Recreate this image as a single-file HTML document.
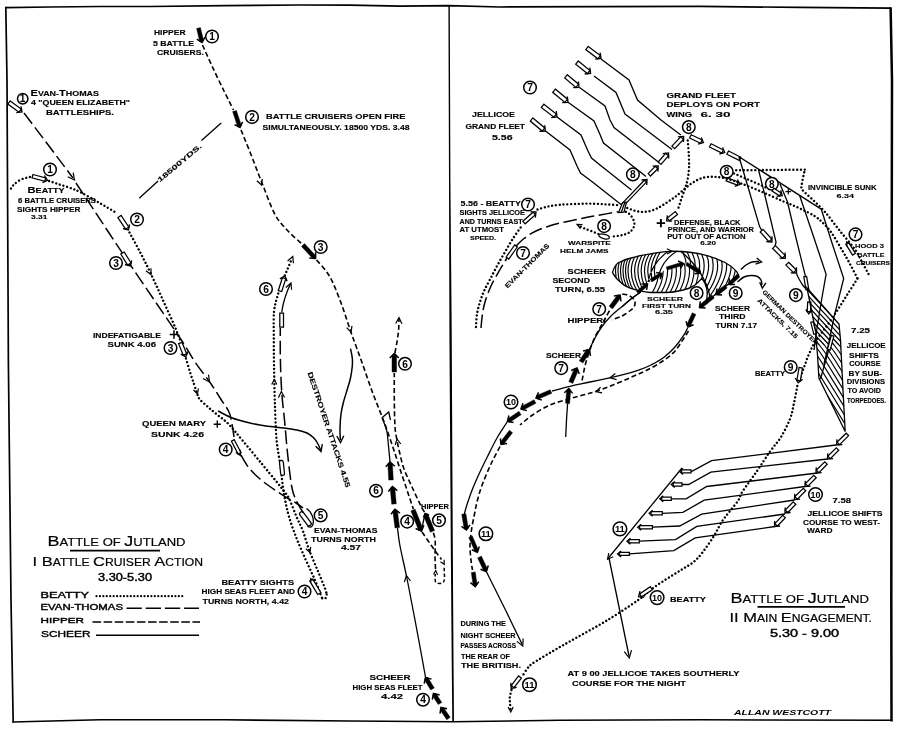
<!DOCTYPE html>
<html><head><meta charset="utf-8"><title>Battle of Jutland</title>
<style>
html,body{margin:0;padding:0;background:#fff;}
body{width:900px;height:730px;overflow:hidden;font-family:"Liberation Sans",sans-serif;}
svg{display:block;position:absolute;left:0;top:0;filter:grayscale(1);}
text{font-family:"Liberation Sans",sans-serif;fill:#000;}
.b{font-weight:bold;stroke:#000;stroke-width:0.12;}
.n{font-weight:normal;stroke:#000;stroke-width:0.18;}
.n2{font-weight:normal;stroke:#000;stroke-width:0.4;}
.i{font-weight:bold;font-style:italic;}
.cn{font-weight:bold;text-anchor:middle;}
.c{fill:#fff;stroke:#000;stroke-width:1.5;}
.s{fill:none;stroke:#000;stroke-width:1.3;}
.s2{fill:none;stroke:#000;stroke-width:1.5;}
.t{fill:none;stroke:#000;stroke-width:1.3;}
.hx{fill:none;stroke:#000;stroke-width:1.2;}
.el{fill:none;stroke:#000;stroke-width:1.15;}
.dt{fill:none;stroke:#000;stroke-width:2.4;stroke-linecap:round;stroke-dasharray:0.01 3.8;}
.ld{fill:none;stroke:#000;stroke-width:1.5;stroke-dasharray:13.5 4.5;}
.sd{fill:none;stroke:#000;stroke-width:1.6;stroke-dasharray:5 2.8;}
.sd2{fill:none;stroke:#000;stroke-width:1.5;stroke-dasharray:3.5 2.2;}
.hs{fill:#fff;stroke:#000;stroke-width:1.25;stroke-linejoin:miter;}
.hh{fill:none;stroke:#000;stroke-width:1.35;}
.bs{fill:#000;stroke:#000;stroke-width:0.4;}
.bh{fill:none;stroke:#000;stroke-width:1.5;}
.ah{fill:none;stroke:#000;stroke-width:1.2;}
.ah2{fill:none;stroke:#000;stroke-width:1.4;}
.fr{fill:none;stroke:#000;stroke-linejoin:miter;}
</style></head><body>
<svg width="900" height="730" viewBox="0 0 900 730">
<rect x="0" y="0" width="900" height="730" fill="#fff"/>
<path class="fr" stroke-width="1.7" d="M5.8 7.6 L50 7 L100 6.5 L150 6.5 L225 5.7 L300 5 L350 5.2 L400 6.2 L449 5.7 L500 7 L600 6.6 L700 6.4 L800 7.4 L890.6 8.2"/>
<path class="fr" stroke-width="1.7" d="M5.8 6.7 L7 80 L8.4 364 L11 600 L13.2 722.6"/>
<path class="fr" stroke-width="1.6" d="M12.3 722 L100 719.8 L225 719.8 L350 721 L453 721.8 L560 720.3 L700 719.8 L892.5 720.3"/>
<path class="fr" stroke-width="2.5" d="M890.6 7.3 L892 80 L891.5 364 L891.3 600 L891.5 721.5"/>
<path fill="#000" d="M448.4 5.5 L449 180 L449.4 330 L450.8 546 L451.7 660 L452.3 722 L454 722 L453.5 660 L452.8 546 L451.7 330 L450.4 180 L449.8 5.5 Z"/>
<path class="bs" d="M200.4 27.5 L203.6 40.6 L202 42.5 L199.7 41.5 L196.6 28.5 Z"/>
<path class="bh" d="M205 37.1 L202 42.5 L196.9 39.1"/>
<circle class="c" cx="212" cy="36.5" r="6.3"/>
<text class="cn" x="212" y="40.2" font-size="10.2">1</text>
<path class="sd" d="M202.5 45 C204.1 48.5 208.4 58.3 212 66 C215.6 73.7 220.4 83.7 224 91 C227.6 98.3 231.9 106.8 233.5 110"/>
<path class="bs" d="M236.4 110.4 L241.4 125.4 L240 127.5 L237.6 126.7 L232.6 111.6 Z"/>
<path class="bh" d="M242.6 121.9 L240 127.5 L234.6 124.6"/>
<circle class="c" cx="252" cy="117" r="6.3"/>
<text class="cn" x="252" y="120.7" font-size="10.2">2</text>
<path class="sd" d="M241 130 C242.5 133.7 246.5 143.2 250 152 C253.5 160.8 257.8 172.6 262 183 C266.2 193.4 270.7 206.5 275 214.5 C279.3 222.5 283.5 226.1 288 231 C292.5 235.9 299.7 241.8 302 244"/>
<path class="ah" d="M256.9 180.7 L261.5 185 L262.3 178.8"/>
<path class="bs" d="M304.5 243.6 L316 256 L315.5 258.5 L312.9 258.8 L301.5 246.4 Z"/>
<path class="bh" d="M315.6 252.3 L315.5 258.5 L309.3 258.1"/>
<circle class="c" cx="320.7" cy="247" r="6.3"/>
<text class="cn" x="320.7" y="250.7" font-size="10.2">3</text>
<path class="sd" d="M316.5 260 C318.1 261.8 323.2 267.2 326 271 C328.8 274.8 330.2 277 333 283 C335.8 289 339.7 299.2 342.5 307 C345.3 314.8 347.8 323 350 329.5 C352.2 336 353.9 340.2 356 346 C358.1 351.8 359.8 356.5 362.5 364 C365.2 371.5 368.8 382.2 372 391 C375.2 399.8 379.5 410 382 416.5 C384.5 423 385.1 424.6 387 430 C388.9 435.4 391.3 442.5 393.5 449 C395.7 455.5 397.8 462.2 400 469 C402.2 475.8 404.8 483.3 407 490 C409.2 496.7 412.2 505.8 413.3 509"/>
<path class="ah" d="M346.6 327.6 L351 332 L352 325.8"/>
<path class="bs" d="M415.1 509.1 L423 528.8 L421.4 531 L418.7 530.5 L410.9 510.9 Z"/>
<path class="bh" d="M423.9 525.2 L421.4 531 L415.6 528.5"/>
<path class="s" d="M421.4 531 L425 513.6"/>
<path class="bs" d="M430.4 532.3 L423.6 515.9 L425.2 513.6 L427.9 514.1 L434.6 530.5 Z"/>
<path class="bh" d="M423.6 517.5 L425.2 513.6 L429.1 515.2"/>
<circle class="c" cx="439" cy="520.3" r="6.3"/>
<text class="cn" x="439" y="524" font-size="10.2">5</text>
<path class="sd" d="M422 532 C423.5 534.2 428.5 541.4 431 545 C433.5 548.6 435.2 551.1 437 553.5 C438.8 555.9 440.8 558.5 441.5 559.5"/>
<path class="ah" d="M440.5 561.7 L444.2 564.3 L444.1 559.8"/>
<path class="sd2" d="M444.2 567.8 C444.2 569.8 444.7 577.5 444.3 580 C443.9 582.5 443.1 582.5 442 583 C440.9 583.5 439.1 583.5 438 583.3 C436.9 583 435.8 583 435.4 581.5 C434.9 580 435.3 575.2 435.3 574"/>
<path class="ah" d="M437.6 574.7 L435.7 570.6 L433.5 574.5"/>
<path class="sd" d="M435.5 569 C435.4 567 435.1 561.7 435 557 C434.9 552.3 435.5 545.2 435.2 541 C434.9 536.8 433.5 533.5 433.2 532"/>
<path class="sd" d="M424.5 512 C423.9 511 423.1 510.2 421 506 C418.9 501.8 414.8 493.2 412 487 C409.2 480.8 406.1 474.8 404 469 C401.9 463.2 400.7 457.1 399.5 452 C398.3 446.9 397.4 442.8 396.7 438.5 C395.9 434.2 395.4 432.9 395 426.5 C394.6 420.1 394.4 408.9 394.3 400 C394.2 391.1 394.3 377.5 394.3 373"/>
<path class="ah" d="M400.8 444 L397 439 L395.2 445"/>
<path class="bs" d="M392 372 L392 355 L394.3 353.5 L396.6 355 L396.6 372 Z"/>
<path class="bh" d="M389.8 358 L394.3 353.5 L398.8 358"/>
<circle class="c" cx="405" cy="363.8" r="6.3"/>
<text class="cn" x="405" y="367.5" font-size="10.2">6</text>
<path class="sd" d="M394.9 353 C395.3 350.8 396.7 343.8 397.3 340 C397.9 336.2 398.3 333.5 398.6 330 C398.9 326.5 398.9 320.8 399 319"/>
<path class="ah" d="M401.9 323.7 L399 317.5 L395.7 323.5"/>
<path class="hs" d="M10.2 100.9 L21.3 109.1 L19 112.2 L7.8 104.1 Z"/>
<path class="hh" d="M20.9 106.3 L22 112 L16.3 112.7"/>
<circle class="c" cx="22.7" cy="98.7" r="5.2"/>
<text class="cn" x="22.7" y="102.4" font-size="10.2">1</text>
<path class="ld" d="M24 113 L49 146 L73 178"/>
<path class="ah" d="M67.8 176.7 L74.5 180 L73.2 172.6"/>
<path class="ld" d="M76 183 C84.5 195.8 109.4 233.7 126.7 259.5 C144 285.3 168.6 320.9 180 338 C191.4 355.1 190.1 354.7 195 362 C199.9 369.3 205.2 375.5 209.7 382 C214.2 388.5 218.8 396 222 401 C225.2 406 227.3 408.2 229 412 C230.7 415.8 231.2 419.8 232 424 C232.8 428.2 233.7 434.8 234 437"/>
<path class="hs" d="M124.2 252 L131 263 L127.6 265.1 L120.8 254 Z"/>
<path class="hh" d="M131.7 260.4 L130.5 266 L124.9 264.5"/>
<circle class="c" cx="116" cy="263" r="6.3"/>
<text class="cn" x="116" y="266.7" font-size="10.2">3</text>
<path class="ah" d="M202.9 378.5 L209.5 382 L208.5 374.6"/>
<path class="hs" d="M234.2 439.7 L241.1 452.7 L238.3 454.3 L231.4 441.3 Z"/>
<path class="ah" d="M235.8 452.4 L240.5 455.5 L240.2 449.9"/>
<path class="ld" d="M241 455 C242.3 457.2 245.8 464 249 468 C252.2 472 256.2 475.7 260 479 C263.8 482.3 267.8 485.1 272 488 C276.2 490.9 281 494.2 285 496.7 C289 499.2 293 501.1 296 503 C299 504.9 301.8 507.2 303 508"/>
<circle class="c" cx="225.7" cy="449.5" r="6.3"/>
<text class="cn" x="225.7" y="453.2" font-size="10.2">4</text>
<rect class="hs" x="297.1" y="516.6" width="16.5" height="4.4" rx="2.2" transform="rotate(53.1 305.4 518.8)"/>
<path class="s" d="M306.5 508.5 C311.5 511.5 315 520 312.5 525.5 C311.5 527.5 309 527.5 307.5 526"/>
<circle class="c" cx="320.6" cy="515.4" r="6.3"/>
<text class="cn" x="320.6" y="519.1" font-size="10.2">5</text>
<path class="ld" d="M303.5 513 C302.4 511.2 298.9 506.2 297 502 C295.1 497.8 293.6 496 292 488 C290.4 480 288.9 465.3 287.6 454 C286.4 442.7 285.5 430.2 284.5 420 C283.5 409.8 282.5 403 281.8 393 C281.1 383 280.6 370.8 280.4 360 C280.1 349.2 280.3 333.3 280.3 328"/>
<path class="ah" d="M284.6 397.5 L281.3 391.5 L278.4 397.7"/>
<path class="hs" d="M279.8 327 L279.8 313 L283.5 313 L283.5 327 Z"/>
<path class="s" d="M281.7 312.5 C282 310.9 282.6 306.4 283.5 303 C284.4 299.6 285.8 295.2 287 292 C288.2 288.8 289.9 285.3 290.5 284"/>
<path class="ah" d="M291.6 289.8 L291 283 L285.8 287.5"/>
<path class="dt" d="M11 188.5 C11.5 187.8 12.5 185.9 14 184.5 C15.5 183.1 17.8 181.2 20 180 C22.2 178.8 25 178.2 27 177.6 C29 177 31.2 176.8 32 176.6"/>
<path class="hs" d="M33 174.5 L45.7 177.9 L44.8 181.3 L32 177.9 Z"/>
<path class="hh" d="M44.4 175.5 L47.5 180.2 L42.5 182.7"/>
<circle class="c" cx="50" cy="169.5" r="6.3"/>
<text class="cn" x="50" y="173.2" font-size="10.2">1</text>
<path class="dt" d="M49 181 C50.5 181.5 54.7 182.9 58 184 C61.3 185.1 65.3 186.2 69 187.5 C72.7 188.8 75.2 189.6 80 192 C84.8 194.4 91.8 198.4 98 202 C104.2 205.6 114.2 211.6 117.5 213.5"/>
<path class="hs" d="M121.1 215.4 L128.8 227 L125.6 229.2 L117.9 217.6 Z"/>
<path class="hh" d="M129.5 224.3 L128.5 230 L122.9 228.7"/>
<circle class="c" cx="137" cy="219.5" r="6.3"/>
<text class="cn" x="137" y="223.2" font-size="10.2">2</text>
<path class="dt" d="M129.5 232.5 C131.2 235.8 136.5 245.2 140 252 C143.5 258.8 146.8 265.3 150.5 273 C154.2 280.7 157.9 289 162 298 C166.1 307 171.9 319.8 175 327 C178.1 334.2 179.6 338.7 180.5 341"/>
<path class="ah" d="M145.9 270.8 L151 274.5 L151 268.2"/>
<path d="M169.7 334.5 H178.3 M174 330.2 V338.8" stroke="#000" stroke-width="1.5" fill="none"/>
<path class="hs" d="M182 342.3 L186.7 353.9 L183.2 355.2 L178.6 343.7 Z"/>
<path class="hh" d="M187.8 351.4 L185.8 356.7 L180.7 354.2"/>
<circle class="c" cx="170.5" cy="348" r="6.3"/>
<text class="cn" x="170.5" y="351.7" font-size="10.2">3</text>
<path class="dt" d="M186 358.5 C186.7 360.8 188.7 367.8 190 372 C191.3 376.2 192.8 380.5 194 384 C195.2 387.5 196.1 390.5 197 393 C197.9 395.5 197.7 396.7 199.5 399 C201.3 401.3 205.1 404.4 208 407 C210.9 409.6 213.5 411.6 217 414.5 C220.5 417.4 224.7 420.1 229 424.5 C233.3 428.9 237.5 434.4 243 441 C248.5 447.6 256.5 457.3 262 464 C267.5 470.7 272.4 476.6 276 481 C279.6 485.4 281.4 487.6 283.5 490.5 C285.6 493.4 286.8 493.9 288.9 498.2 C291 502.5 294 510.8 296.3 516.3 C298.6 521.8 300.7 525.3 302.9 531.1 C305.1 536.9 307 544.3 309.5 550.9 C312 557.5 315.1 564.3 317.7 570.6 C320.3 576.9 323.6 584.7 325.1 588.7 C326.6 592.7 326.4 593.5 326.7 594.4"/>
<path class="ah" d="M193.5 390 L197.5 394 L198.4 388.4"/>
<path d="M213.7 424.2 H220.9 M217.3 420.6 V427.8" stroke="#000" stroke-width="1.4" fill="none"/>
<path class="dt" d="M326.7 594.4 L325.5 598.6 L322 598.4"/>
<path class="dt" d="M322 597.7 C320.7 594.6 317.2 585.2 314.4 578.8 C311.6 572.4 308.4 566 305.4 559.1 C302.4 552.2 299.1 544.8 296.3 537.7 C293.6 530.6 290.8 522.9 288.9 516.3 C287 509.7 285.9 503.9 284.8 498.2 C283.7 492.5 283 487.4 282.3 482 C281.6 476.6 281.5 473.2 280.5 466 C279.5 458.8 277.4 450 276.5 439 C275.6 428 275.2 412.5 274.8 400 C274.4 387.5 274.2 374.8 274 364 C273.8 353.2 273.8 343.7 273.8 335 C273.8 326.3 273.4 318.5 274 312 C274.6 305.5 276 301.3 277.5 296 C279 290.7 281.2 284.7 283 280 C284.8 275.3 286.5 271.6 288 268 C289.5 264.4 291.3 260.1 292 258.5"/>
<path class="ah" d="M305.9 548.7 L310 552.5 L310.7 546.9"/>
<path class="ah" d="M276.8 384.6 L274.3 379.5 L271.7 384.5"/>
<path class="ah" d="M293.4 263.3 L292.8 256.5 L287.6 261"/>
<path class="hs" d="M278.3 290.5 L282.4 277.7 L285.8 278.7 L281.7 291.5 Z"/>
<path class="hh" d="M279.9 278.9 L284.8 276 L287.1 281.1"/>
<circle class="c" cx="266" cy="289" r="6.3"/>
<text class="cn" x="266" y="292.7" font-size="10.2">6</text>
<rect class="hs" x="274.5" y="466.1" width="15.1" height="3.8" rx="1.9" transform="rotate(-96.1 282 468)"/>
<path class="hs" d="M317.7 594.5 L309.7 580.9 L312.9 579.1 L320.9 592.7 Z"/>
<path class="ah" d="M314 580.8 L310.6 578.6 L310.8 582.6"/>
<circle class="c" cx="304.5" cy="591.5" r="6.3"/>
<text class="cn" x="304.5" y="595.2" font-size="10.2">4</text>
<path class="s" d="M139.2 198.2 L158.1 181"/>
<path class="s" d="M201.5 140.6 L221.2 123"/>
<path class="s2" d="M218 411 C220.3 412.1 226.6 415.8 231.6 417.7 C236.6 419.6 242.3 421.1 248 422.5 C253.7 423.9 260 425.1 266 426 C272 426.9 278.8 427.3 284 428 C289.2 428.7 293.2 429.2 297 430 C300.8 430.8 304.2 431.7 307 433 C309.8 434.3 311.8 436 313.6 437.8 C315.4 439.6 316.9 442 318 444 C319.1 446 320.1 449 320.5 450"/>
<path class="ah2" d="M315.6 446.3 L321 451.5 L322.3 444.1"/>
<path class="s2" d="M350.5 348.6 C350.8 350.2 352 355.1 352.3 358 C352.6 360.9 352.6 362.7 352.3 366 C352 369.3 351.3 374.2 350.5 378 C349.7 381.8 348.6 385 347.4 389 C346.2 393 344.6 397.8 343.5 402 C342.4 406.2 341.6 409.7 341 414 C340.4 418.3 340.1 423.7 340 428 C339.9 432.3 340.2 438 340.3 440"/>
<path class="ah2" d="M336.8 436 L340.5 442.5 L343.8 435.8"/>
<path class="bs" d="M446.8 719.7 L440.1 709.9 L441 707.5 L443.6 707.6 L450.2 717.3 Z"/>
<path class="bh" d="M440 713.6 L441 707.5 L447.1 708.8"/>
<path class="bs" d="M438.2 704.6 L432.6 695.9 L433.5 693.5 L436.1 693.6 L441.8 702.4 Z"/>
<path class="bh" d="M432.3 699.6 L433.5 693.5 L439.6 694.9"/>
<path class="bs" d="M430.7 690.1 L424.5 679.9 L425.5 677.5 L428.1 677.7 L434.3 687.9 Z"/>
<path class="bh" d="M424.2 683.6 L425.5 677.5 L431.5 679.1"/>
<circle class="c" cx="423" cy="699.7" r="6.3"/>
<text class="cn" x="423" y="703.4" font-size="10.2">4</text>
<path class="s" d="M425.5 677 C423.8 667.5 418.1 636.4 415 620 C411.9 603.6 409.5 590.8 407 578.5 C404.5 566.2 401.6 554.4 400 546 C398.4 537.6 397.9 531 397.5 528"/>
<path class="ah" d="M410.5 581 L406.4 575.5 L404.4 582.1"/>
<path class="bs" d="M395 528 L392.8 511 L394.9 509.2 L397.4 510.4 L399.6 527.4 Z"/>
<path class="bh" d="M391 514.2 L394.9 509.2 L399.9 513.1"/>
<circle class="c" cx="407.2" cy="521.6" r="6.3"/>
<text class="cn" x="407.2" y="525.3" font-size="10.2">4</text>
<path class="bs" d="M391.7 504.2 L390.2 488.3 L392.4 486.6 L394.8 487.9 L396.3 503.8 Z"/>
<path class="bh" d="M388.3 491.5 L392.4 486.6 L397.3 490.7"/>
<circle class="c" cx="376" cy="490.7" r="6.3"/>
<text class="cn" x="376" y="494.4" font-size="10.2">6</text>
<path class="bs" d="M388.7 480.1 L387.8 463.6 L390 462 L392.4 463.4 L393.3 479.9 Z"/>
<path class="bh" d="M385.8 466.7 L390 462 L394.7 466.2"/>
<path class="s" d="M390 462 C389.8 459.3 389 451 388.5 446 C388 441 387.7 435.7 387 432 C386.3 428.3 385.3 426.4 384.5 424 C383.7 421.6 382.4 418.8 382 417.7"/>
<path class="s" d="M382 417.7 L388.7 412 L390.5 420"/>
<text class="b" x="154" y="35.1" font-size="6.5" textLength="31.5" lengthAdjust="spacingAndGlyphs">HIPPER</text>
<text class="b" x="153" y="45.6" font-size="7.1" textLength="41" lengthAdjust="spacingAndGlyphs">5 BATTLE</text>
<text class="b" x="157" y="55.1" font-size="7.1" textLength="47" lengthAdjust="spacingAndGlyphs">CRUISERS.</text>
<text class="b" x="30.5" y="95.5" textLength="68.5" lengthAdjust="spacingAndGlyphs"><tspan font-size="8.6">E</tspan><tspan font-size="6.9">VAN-</tspan><tspan font-size="8.6">T</tspan><tspan font-size="6.9">HOMAS</tspan></text>
<text class="b" x="31" y="105.1" font-size="7.1" textLength="99" lengthAdjust="spacingAndGlyphs">4 &quot;QUEEN ELIZABETH&quot;</text>
<text class="b" x="46" y="114.6" font-size="7.1" textLength="68" lengthAdjust="spacingAndGlyphs">BATTLESHIPS.</text>
<text class="b" x="266" y="118.6" font-size="7.8" textLength="139.5" lengthAdjust="spacingAndGlyphs">BATTLE CRUISERS OPEN FIRE</text>
<text class="b" x="262.5" y="130.1" font-size="7.1" textLength="147" lengthAdjust="spacingAndGlyphs">SIMULTANEOUSLY. 18500 YDS. 3.48</text>
<text class="b" x="159.8" y="182.5" font-size="6.7" textLength="55.5" lengthAdjust="spacingAndGlyphs" transform="rotate(-39.9 159.8 182.5)">18500YDS.</text>
<text class="b" x="27.5" y="193" textLength="37" lengthAdjust="spacingAndGlyphs"><tspan font-size="8.6">B</tspan><tspan font-size="6.9">EATTY</tspan></text>
<text class="b" x="18" y="202.6" font-size="6.5" textLength="78" lengthAdjust="spacingAndGlyphs">6 BATTLE CRUISERS</text>
<text class="b" x="17" y="211.6" font-size="6.5" textLength="63.5" lengthAdjust="spacingAndGlyphs">SIGHTS HIPPER</text>
<text class="b" x="31" y="219.1" font-size="5.8" textLength="16.5" lengthAdjust="spacingAndGlyphs">3.31</text>
<text class="b" x="93" y="337.6" font-size="6.5" textLength="68" lengthAdjust="spacingAndGlyphs">INDEFATIGABLE</text>
<text class="b" x="107.5" y="347.1" font-size="7.1" textLength="48.5" lengthAdjust="spacingAndGlyphs">SUNK 4.06</text>
<text class="b" x="142" y="426.1" font-size="7.1" textLength="64" lengthAdjust="spacingAndGlyphs">QUEEN MARY</text>
<text class="b" x="151" y="436.6" font-size="7.1" textLength="53" lengthAdjust="spacingAndGlyphs">SUNK 4.26</text>
<text class="b" x="307.5" y="373" font-size="7.1" textLength="121" lengthAdjust="spacingAndGlyphs" transform="rotate(71.5 307.5 373)">DESTROYER ATTACKS 4.55</text>
<text class="b" x="314" y="533.1" font-size="7.1" textLength="63.5" lengthAdjust="spacingAndGlyphs">EVAN-THOMAS</text>
<text class="b" x="311" y="542.1" font-size="7.1" textLength="65" lengthAdjust="spacingAndGlyphs">TURNS NORTH</text>
<text class="b" x="341" y="550.1" font-size="6.5" textLength="20" lengthAdjust="spacingAndGlyphs">4.57</text>
<text class="b" x="421" y="508.6" font-size="7.1" textLength="28" lengthAdjust="spacingAndGlyphs">HIPPER</text>
<text class="b" x="221.5" y="584.6" font-size="6.5" textLength="72.5" lengthAdjust="spacingAndGlyphs">BEATTY SIGHTS</text>
<text class="b" x="201.5" y="593.6" font-size="6.5" textLength="93.5" lengthAdjust="spacingAndGlyphs">HIGH SEAS FLEET AND</text>
<text class="b" x="202.5" y="603.6" font-size="7.1" textLength="86.5" lengthAdjust="spacingAndGlyphs">TURNS NORTH, 4.42</text>
<text class="b" x="369.5" y="680.1" font-size="7.1" textLength="41" lengthAdjust="spacingAndGlyphs">SCHEER</text>
<text class="b" x="352.5" y="690.1" font-size="7.1" textLength="70" lengthAdjust="spacingAndGlyphs">HIGH SEAS FLEET</text>
<text class="b" x="381" y="698.6" font-size="6.5" textLength="22" lengthAdjust="spacingAndGlyphs">4.42</text>
<text class="n" x="47.5" y="546.4" textLength="138" lengthAdjust="spacingAndGlyphs"><tspan font-size="15.3">B</tspan><tspan font-size="11.1">ATTLE OF </tspan><tspan font-size="15.3">J</tspan><tspan font-size="11.1">UTLAND</tspan></text>
<path d="M70 550.6 H160" stroke="#000" stroke-width="1.8"/>
<text class="n" x="32.5" y="566" textLength="170.5" lengthAdjust="spacingAndGlyphs"><tspan font-size="13.6">I B</tspan><tspan font-size="10">ATTLE </tspan><tspan font-size="13.6">C</tspan><tspan font-size="10">RUISER </tspan><tspan font-size="13.6">A</tspan><tspan font-size="10">CTION</tspan></text>
<text class="n2" x="98" y="581.4" font-size="10.2" textLength="54" lengthAdjust="spacingAndGlyphs">3.30-5.30</text>
<text class="n2" x="40.5" y="598.4" font-size="9.4" textLength="48.5" lengthAdjust="spacingAndGlyphs">BEATTY</text>
<path d="M96.5 596.2 H185.5" fill="none" stroke="#000" stroke-width="2.2" stroke-linecap="round" stroke-dasharray="0.01 3.42"/>
<text class="n2" x="40.5" y="610.4" font-size="8.8" textLength="82.5" lengthAdjust="spacingAndGlyphs">EVAN-THOMAS</text>
<path d="M126.5 608.3 H199" stroke="#000" stroke-width="1.5" stroke-dasharray="15.3 3.9" fill="none"/>
<text class="n2" x="40.5" y="623.4" font-size="8.1" textLength="43.5" lengthAdjust="spacingAndGlyphs">HIPPER</text>
<path d="M92.5 622 H200" stroke="#000" stroke-width="1.5" stroke-dasharray="8.6 2.5" fill="none"/>
<text class="n2" x="41" y="636.9" font-size="9.4" textLength="49.5" lengthAdjust="spacingAndGlyphs">SCHEER</text>
<path d="M96 635.3 H199" stroke="#000" stroke-width="1.4" fill="none"/>
<path class="t" d="M601 59 L629 80 L637.5 100 L661 120 L680.8 135"/>
<path class="t" d="M594 76 L616 92.5 L625 114 L633 120 L672 149.5"/>
<path class="t" d="M579.5 87.5 L605 106 L610 120 L614 127.5 L659 162.5"/>
<path class="t" d="M568 102.3 L594 121 L600 134.4 L603.5 143 L646 176.5"/>
<path class="t" d="M557 117 L581 135 L588 151 L591.5 158 L600 165 L631.5 190"/>
<path class="t" d="M545.5 131 L570 150 L577 166 L580.5 173 L592.5 182 L621 204.5"/>
<path class="hs" d="M588.2 46.4 L600.4 55.5 L597.9 58.8 L585.8 49.6 Z"/>
<path class="hh" d="M600.1 52.7 L601 58.5 L595.2 59.2"/>
<path class="hs" d="M578.3 61 L590 70.5 L587.4 73.6 L575.7 64.2 Z"/>
<path class="hh" d="M589.8 67.7 L590.5 73.5 L584.7 74"/>
<path class="hs" d="M567.3 74.7 L578.6 84.2 L575.9 87.4 L564.7 77.9 Z"/>
<path class="hh" d="M578.4 81.5 L579 87.3 L573.2 87.7"/>
<path class="hs" d="M555.3 89.1 L567.5 99.2 L564.9 102.4 L552.7 92.3 Z"/>
<path class="hh" d="M567.3 96.5 L568 102.3 L562.2 102.7"/>
<path class="hs" d="M543.9 104.2 L556.4 114 L553.9 117.2 L541.3 107.4 Z"/>
<path class="hh" d="M556.2 111.2 L557 117 L551.2 117.6"/>
<path class="hs" d="M532.9 117.9 L544.8 127.9 L542.2 131.1 L530.3 121.1 Z"/>
<path class="hh" d="M544.7 125.2 L545.3 131 L539.5 131.4"/>
<circle class="c" cx="530" cy="87.5" r="6.3"/>
<text class="cn" x="530" y="91.2" font-size="10.2">7</text>
<path class="hs" d="M671.9 146.1 L680.7 136.8 L683.4 139.4 L674.7 148.7 Z"/>
<path class="hh" d="M677.9 136.8 L683.6 136.4 L683.5 142.1"/>
<path class="hs" d="M658.2 162 L665.6 153.4 L668.4 155.9 L661 164.4 Z"/>
<path class="hh" d="M662.8 153.6 L668.5 152.9 L668.7 158.6"/>
<path class="hs" d="M648.1 173.6 L655.3 166.3 L657.8 168.8 L650.5 176 Z"/>
<path class="hh" d="M652.6 166.2 L658.2 165.9 L657.9 171.5"/>
<path class="hs" d="M621.5 204.1 L644.4 180.2 L646.4 182.1 L623.5 205.9 Z"/>
<path class="hh" d="M641.5 180 L647 179.5 L646.7 185"/>
<circle class="c" cx="688.8" cy="127.1" r="6.3"/>
<text class="cn" x="688.8" y="130.8" font-size="10.2">8</text>
<circle class="c" cx="632.9" cy="174.4" r="6.3"/>
<text class="cn" x="632.9" y="178.1" font-size="10.2">8</text>
<path class="hs" d="M691.2 134.8 L702.1 140 L700.6 143.2 L689.6 138 Z"/>
<path class="hh" d="M701.2 137.4 L703.4 142.6 L698 144.2"/>
<path class="hs" d="M711.1 143.8 L723.4 150 L721.9 153.1 L709.5 147 Z"/>
<path class="hh" d="M722.6 147.4 L724.7 152.6 L719.3 154.1"/>
<path class="hs" d="M728.5 151 L740.8 157.2 L739.2 160.4 L726.9 154.2 Z"/>
<path class="s" d="M739 156.7 L821.2 209.1"/>
<path class="t" d="M739 156.7 L748 187 L759.6 226.6 L762 231"/>
<path class="t" d="M758.6 170 L766 200 L776 242 L775 247"/>
<path class="t" d="M780 184 L787.5 202 L796 238 L805.5 276.6"/>
<path class="t" d="M799.7 195.7 L812 232 L826.1 274.2 L821.2 302 L816.9 329 L814 350"/>
<path class="t" d="M821.2 209 L832 243 L843.7 278.5 L834.1 316.7 L827.5 349.5 L824 364"/>
<path class="hs" d="M763 229.4 L771.8 239 L768.9 241.6 L760.2 232 Z"/>
<path class="hh" d="M772 236.2 L771.9 242 L766.2 241.6"/>
<path class="hs" d="M775.4 245.6 L785.1 255.4 L782.3 258.1 L772.6 248.4 Z"/>
<path class="hh" d="M785.1 252.6 L785.3 258.4 L779.5 258.2"/>
<path class="hs" d="M788.7 262.3 L796.3 270 L793.5 272.7 L785.9 265.1 Z"/>
<path class="hh" d="M796.4 267.2 L796.5 273 L790.7 272.8"/>
<path class="t" d="M796.5 273.5 C796.9 274.4 797.9 277 799 279 C800.1 281 801.7 283.7 803 285.5 C804.3 287.3 806.3 289.2 807 290"/>
<path class="hs" d="M806.6 276.4 L808.8 289.4 L806 289.8 L803.8 276.8 Z"/>
<path class="hs" d="M810.9 302.1 L810.5 311.6 L807.2 311.4 L807.7 301.9 Z"/>
<path class="hh" d="M812.2 309.7 L808.8 313.8 L805.8 309.5"/>
<circle class="c" cx="795.9" cy="295.1" r="6.3"/>
<text class="cn" x="795.9" y="298.8" font-size="10.2">9</text>
<clipPath id="hp"><path d="M807 288 L839 324 L840.5 340 L843.3 396 L845.2 431.5 L818.9 378 L817.5 355 L815.4 330 Z"/></clipPath>
<path class="t" d="M807 288 L839 324 L840.5 340 L843.3 396 L845.2 431.5 L818.9 378 L817.5 355 L815.4 330 Z"/>
<path class="hx" clip-path="url(#hp)" d="M664.1 262 L741 345 Q746.6 352 751.6 360 L807.2 450 M669 262 L745.9 345 Q751.5 352 756.5 360 L812.1 450 M673.9 262 L750.8 345 Q756.4 352 761.4 360 L817 450 M678.8 262 L755.7 345 Q761.3 352 766.3 360 L821.9 450 M683.7 262 L760.6 345 Q766.2 352 771.2 360 L826.8 450 M688.6 262 L765.5 345 Q771.1 352 776.1 360 L831.7 450 M693.5 262 L770.4 345 Q776 352 781 360 L836.6 450 M698.4 262 L775.3 345 Q780.9 352 785.9 360 L841.5 450 M703.3 262 L780.2 345 Q785.8 352 790.8 360 L846.4 450 M708.2 262 L785.1 345 Q790.7 352 795.7 360 L851.3 450 M713.1 262 L790 345 Q795.6 352 800.6 360 L856.2 450 M718 262 L794.9 345 Q800.5 352 805.5 360 L861.1 450 M722.9 262 L799.8 345 Q805.4 352 810.4 360 L866 450 M727.8 262 L804.7 345 Q810.3 352 815.3 360 L870.9 450 M732.7 262 L809.6 345 Q815.2 352 820.2 360 L875.8 450 M737.6 262 L814.5 345 Q820.1 352 825.1 360 L880.7 450 M742.5 262 L819.4 345 Q825 352 830 360 L885.6 450 M747.4 262 L824.3 345 Q829.9 352 834.9 360 L890.5 450 M752.3 262 L829.2 345 Q834.8 352 839.8 360 L895.4 450 M757.2 262 L834.1 345 Q839.7 352 844.7 360 L900.3 450 M762.1 262 L839 345 Q844.6 352 849.6 360 L905.2 450 M767 262 L843.9 345 Q849.5 352 854.5 360 L910.1 450 M771.9 262 L848.8 345 Q854.4 352 859.4 360 L915 450 M776.8 262 L853.7 345 Q859.3 352 864.3 360 L919.9 450 M781.7 262 L858.6 345 Q864.2 352 869.2 360 L924.8 450 M786.6 262 L863.5 345 Q869.1 352 874.1 360 L929.7 450 M791.5 262 L868.4 345 Q874 352 879 360 L934.6 450 M796.4 262 L873.3 345 Q878.9 352 883.9 360 L939.5 450 M801.3 262 L878.2 345 Q883.8 352 888.8 360 L944.4 450 M806.2 262 L883.1 345 Q888.7 352 893.7 360 L949.3 450 M811.1 262 L888 345 Q893.6 352 898.6 360 L954.2 450 M816 262 L892.9 345 Q898.5 352 903.5 360 L959.1 450 M820.9 262 L897.8 345 Q903.4 352 908.4 360 L964 450 M825.8 262 L902.7 345 Q908.3 352 913.3 360 L968.9 450 M830.7 262 L907.6 345 Q913.2 352 918.2 360 L973.8 450 M835.6 262 L912.5 345 Q918.1 352 923.1 360 L978.7 450 M840.5 262 L917.4 345 Q923 352 928 360 L983.6 450 M845.4 262 L922.3 345 Q927.9 352 932.9 360 L988.5 450 M850.3 262 L927.2 345 Q932.8 352 937.8 360 L993.4 450 M855.2 262 L932.1 345 Q937.7 352 942.7 360 L998.3 450"/>
<path class="hs" d="M833.9 336.2 L830.1 350.1 L827.5 349.3 L831.3 335.4 Z"/>
<path class="t" d="M828.8 349.7 L820.5 379"/>
<path class="hs" d="M813.2 321.7 L816.2 333.7 L813.8 334.3 L810.8 322.3 Z"/>
<path class="dt" d="M868.5 274 C867.4 272 864.2 266.1 862 262 C859.8 257.9 858.7 254.7 855 249.5 C851.3 244.3 845 237.2 840 231 C835 224.8 829.7 217.3 825 212 C820.3 206.7 815.8 202.7 812 199 C808.2 195.3 804.2 192.3 802.5 190 C800.8 187.7 801.3 188.4 801.7 185 C802.1 181.6 804.3 172.2 804.8 169.6"/>
<path class="dt" d="M804.8 169.6 L770 170 L734 170.3"/>
<circle class="c" cx="726.7" cy="171.7" r="6.3"/>
<text class="cn" x="726.7" y="175.4" font-size="10.2">8</text>
<path class="hs" d="M727.3 177.8 L738.4 182 L737.3 185.1 L726.1 180.8 Z"/>
<path class="hh" d="M737.4 179.5 L740 184.4 L734.8 186.3"/>
<path class="dt" d="M734 173.5 C736.3 174.5 743.4 177.5 748 179.5 C752.6 181.5 757.6 183.7 761.6 185.5 C765.6 187.3 770.3 189.7 772 190.5"/>
<circle class="c" cx="771.9" cy="183.8" r="6.3"/>
<text class="cn" x="771.9" y="187.5" font-size="10.2">8</text>
<path class="hs" d="M773.9 188.2 L781.2 193 L779.4 195.8 L772.1 191 Z"/>
<path class="hh" d="M780.7 190.3 L782.2 195.7 L776.7 196.4"/>
<path d="M785.5 191.6 H791.1 M788.3 188.8 V194.4" stroke="#000" stroke-width="1.2" fill="none"/>
<circle class="c" cx="855.5" cy="234.4" r="6.3"/>
<text class="cn" x="855.5" y="238.1" font-size="10.2">7</text>
<path class="hs" d="M852.6 255.2 L845.8 244.1 L848.6 242.3 L855.4 253.4 Z"/>
<path class="ah" d="M850.4 244.3 L846.6 242 L847 246.4"/>
<path class="dt" d="M687.7 140.5 C687.9 142.9 688.6 150.4 688.8 155 C689 159.6 689.2 163.8 689 168 C688.8 172.2 688.2 176.6 687.5 180 C686.8 183.4 686.1 185.2 685 188.5 C683.9 191.8 682.2 196.4 681 200 C679.8 203.6 678.3 208.3 677.8 210"/>
<path class="hs" d="M677.5 214.4 L669.5 220.8 L667.3 218.1 L675.3 211.6 Z"/>
<path class="hh" d="M672.2 221.2 L666.6 220.9 L667.5 215.3"/>
<path d="M656.7 223.1 H665.1 M660.9 218.9 V227.3" stroke="#000" stroke-width="1.9" fill="none"/>
<path class="dt" d="M476 327 C476.2 324.8 476.3 318.2 477 314 C477.7 309.8 478.8 305.8 480 302 C481.2 298.2 482.3 294.8 484 291 C485.7 287.2 487.8 283.7 490 279.5 C492.2 275.3 494.5 270.6 497 266 C499.5 261.4 502.3 256.6 505 252 C507.7 247.4 510.2 242.9 513 238.5 C515.8 234.1 520.5 227.7 522 225.5"/>
<path class="hs" d="M522.8 221.2 L533.1 212.2 L535.4 214.8 L525.2 223.8 Z"/>
<path class="hh" d="M530.4 211.9 L536 212 L535.3 217.6"/>
<circle class="c" cx="528" cy="204.5" r="6.3"/>
<text class="cn" x="528" y="208.2" font-size="10.2">7</text>
<path class="dt" d="M537.5 209.5 C539.2 209 544.2 207.3 548 206.5 C551.8 205.7 555.5 205.2 560 204.8 C564.5 204.4 570 204.2 575 204 C580 203.8 585 203.5 590 203.6 C595 203.7 600.2 204 605 204.3 C609.8 204.6 616.2 205 618.5 205.2"/>
<path class="hs" d="M618.6 212.6 L622.6 202.6 L626.4 202.2 L624 212.2 Z"/>
<path class="t" d="M621.3 212.2 L624.8 202.6"/>
<path class="dt" d="M627.3 208 C628.4 208.4 631.6 209.8 634 210.5 C636.4 211.2 639.2 211.8 641.7 211.9 C644.2 212 646.6 211.8 649 211.3 C651.4 210.8 653.9 209.9 656.2 208.8 C658.5 207.8 660.6 206.5 663 205 C665.4 203.5 668.3 201.6 670.6 200 C672.9 198.4 674.6 197.4 677 195.5 C679.4 193.6 682.3 190.7 685 188.5 C687.7 186.3 690 184.3 693 182.5 C696 180.7 699.1 178.8 702.7 177.8 C706.3 176.9 710.4 176.6 714.4 176.8 C718.4 177 722.6 177.7 727 178.8 C731.4 179.9 735.3 181.3 741 183.4 C746.7 185.5 754.1 188.6 761 191.5 C767.9 194.4 775.9 198.2 782.2 200.9 C788.5 203.7 793.5 205.4 799 208 C804.5 210.6 810.8 213.6 815 216.3 C819.2 219 821.2 221.3 824 224 C826.8 226.7 828.5 228.4 831.5 232.7 C834.5 237 838.9 244.8 842 250 C845.1 255.2 847.4 259.2 850 264 C852.6 268.8 856.2 276.1 857.5 278.5"/>
<path class="dt" d="M857.5 278.5 C855.8 281.2 850.4 289.7 847 295 C843.6 300.3 840.7 305.2 837.2 310.5 C833.7 315.8 829.7 321.8 826 327 C822.3 332.2 817.8 337.5 815 342 C812.2 346.5 810.8 350 809 354 C807.2 358 805.9 362.2 804.5 366 C803.1 369.8 801.2 375.2 800.5 377"/>
<path class="hs" d="M802.5 368.1 L800.3 380.8 L796.9 380.2 L799.1 367.5 Z"/>
<path class="hh" d="M802.6 379.3 L798.2 382.8 L795.2 378"/>
<circle class="c" cx="790.7" cy="367" r="6.3"/>
<text class="cn" x="790.7" y="370.7" font-size="10.2">9</text>
<path class="dt" d="M797.3 386 C796.8 388.8 795.2 397.5 794 403 C792.8 408.5 792.2 413.3 790 419 C787.8 424.7 784.3 431.6 781 437 C777.7 442.4 774 445.8 770 451.5 C766 457.2 761.6 464.3 757 471 C752.4 477.7 745.6 486.7 742.5 491.5 C739.4 496.3 740.6 496.8 738.5 500 C736.4 503.2 732.8 507.4 730 511 C727.2 514.6 724.7 517.2 722 521.4 C719.3 525.6 717.1 531 713.8 536.2 C710.5 541.4 705.6 548.4 702.3 552.6 C699 556.8 697 559.1 694.1 561.6 C691.2 564.1 688 565.7 685 567.6 C682 569.5 681 569.9 676 573.1 C671 576.3 661.1 582.2 654.7 586.8 C648.3 591.4 645.6 594.8 637.5 600.5 C629.4 606.2 616.4 614.7 606 621 C595.6 627.3 583.8 633.5 575 638.5 C566.2 643.5 560.1 646.8 553 651 C545.9 655.2 536.8 660.5 532.5 663.5 C528.2 666.5 528.7 666.9 527 669 C525.3 671.1 523.2 674.8 522.5 676"/>
<path class="hs" d="M652.3 589.7 L641.5 596.8 L639.6 593.9 L650.3 586.7 Z"/>
<path class="hh" d="M644.2 597.4 L638.6 596.6 L640 591.2"/>
<circle class="c" cx="657.1" cy="597.6" r="6.8"/>
<text class="cn" x="657.1" y="601" font-size="9.4" textLength="10" lengthAdjust="spacingAndGlyphs">10</text>
<path class="hs" d="M521.4 678.1 L514 687.7 L511.2 685.6 L518.6 675.9 Z"/>
<path class="hh" d="M516.7 687.4 L511.2 688.5 L510.8 682.9"/>
<circle class="c" cx="529.5" cy="684.7" r="6.8"/>
<text class="cn" x="529.5" y="688.1" font-size="9.4" textLength="10" lengthAdjust="spacingAndGlyphs">11</text>
<path class="dt" d="M511.5 690 C511.2 691.2 510.1 694.8 509.8 697 C509.6 699.2 509.9 701 510 703 C510.1 705 510.4 708 510.5 709"/>
<path class="ah" d="M508.1 707.1 L510.8 712 L513.2 706.9"/>
<path class="dt" d="M625.8 211.7 C626.5 212.2 628.8 213.3 630 214.5 C631.2 215.7 632.3 217.6 633 219 C633.7 220.4 634.2 221.7 634.3 223 C634.4 224.3 634.5 225.5 633.8 227 C633.1 228.5 631.5 230.8 630 232 C628.5 233.2 626.4 233.9 624.5 234.5 C622.6 235.1 620.9 235.3 618.6 235.7 C616.4 236.1 612.3 236.6 611 236.8"/>
<ellipse class="hs" cx="604.1" cy="236.5" rx="5.4" ry="2.1" transform="rotate(14 604.1 236.5)"/>
<path class="dt" d="M598.4 234 C597.2 233.5 593.4 231.9 591 231 C588.6 230.1 585.9 229.1 584 228.3 C582.1 227.5 580.2 226.4 579.5 226"/>
<path class="hh" d="M582.5 224.6 L577.2 224.4 L580.5 228.6"/>
<circle class="c" cx="604.1" cy="226.1" r="6.3"/>
<text class="cn" x="604.1" y="229.8" font-size="10.2">8</text>
<path class="ld" d="M481 328 C481.2 325.7 481.8 318.3 482.5 314 C483.2 309.7 483.6 306.7 485 302 C486.4 297.3 488.5 291.4 491 286 C493.5 280.6 497.3 274.2 500 269.5 C502.7 264.8 505.8 259.9 507 258"/>
<path class="hs" d="M506.2 257 L514.7 245 L517.3 247 L508.8 259 Z"/>
<circle class="c" cx="523" cy="253" r="6.3"/>
<text class="cn" x="523" y="256.7" font-size="10.2">7</text>
<path class="ld" d="M516 246 C517.3 244.8 520.8 240.9 524 238.5 C527.2 236.1 530.7 233.6 535 231.5 C539.3 229.4 545 227.3 550 225.7 C555 224.1 559.3 223.3 565 222 C570.7 220.7 578.2 219.2 584 218 C589.8 216.8 594.2 216.1 600 215 C605.8 213.9 615.5 212.2 618.6 211.7"/>
<path class="s" d="M565.7 437 L566.5 420 L567.6 403.5"/>
<path class="bs" d="M565.6 403.3 L566.7 389.9 L568.8 388.6 L570.7 390.3 L569.6 403.7 Z"/>
<path class="bh" d="M564.3 392.7 L568.8 388.6 L572.6 393.4"/>
<path class="bs" d="M568.8 381.6 L574.4 368.6 L577 368.1 L578.4 370.3 L572.8 383.4 Z"/>
<path class="bh" d="M571.2 370.5 L577 368.1 L579.3 374"/>
<circle class="c" cx="561.2" cy="368.1" r="6.3"/>
<text class="cn" x="561.2" y="371.8" font-size="10.2">7</text>
<path class="bs" d="M579.3 360.7 L586.6 349.6 L589.3 349.6 L590.3 352.1 L582.9 363.1 Z"/>
<path class="bh" d="M583.1 350.9 L589.3 349.6 L590.5 355.8"/>
<path class="s" d="M589.3 349.6 C590.2 347.7 593 341.8 595 338 C597 334.2 598.9 330.7 601.6 327 C604.3 323.3 607.6 319.4 611 316 C614.4 312.6 618.9 309.2 622.2 306.4 C625.5 303.6 627.9 301.4 631 299 C634.1 296.6 639.1 293.2 640.7 292"/>
<path class="sd" d="M582.1 380.4 C582.6 378 583.8 370.8 585 366 C586.2 361.2 587.6 356.4 589.3 351.6 C591 346.8 593 341.4 595 337 C597 332.6 599.7 328.5 601.6 325 C603.5 321.5 604.9 318.8 606.5 316 C608.1 313.2 610.2 309.3 611 308"/>
<path class="bs" d="M609.1 306.2 L617.4 295 L620.1 295.1 L621 297.6 L612.7 308.8 Z"/>
<path class="bh" d="M613.9 296.1 L620.1 295.1 L621 301.3"/>
<circle class="c" cx="599.2" cy="309.1" r="6.3"/>
<text class="cn" x="599.2" y="312.8" font-size="10.2">7</text>
<path class="sd" d="M622.2 294.1 C623.3 294.3 627 294.5 629 295.5 C631 296.5 633.6 298.6 634.5 300.3 C635.4 302.1 635.2 304.3 634.5 306 C633.8 307.7 632.5 308.8 630.4 310.5 C628.3 312.2 625.1 314.4 622 316 C618.9 317.6 613.6 319.2 611.9 319.8"/>
<clipPath id="el"><path d="M612.5 272.5 C614 267 616 264.5 618 263 C623 260 628 258.5 633 257.5 C640 255.5 645 254.8 650 254 C658 252.5 664 251.5 670 251.3 C678 251 686 251.8 691.7 252.5 C698 253.3 703 254.5 708 255.8 C714 257.5 720 260 725 262.5 C730 265 734 268.5 736.7 271.7 L738.8 275.8 L706 302 C709 292 706 283 701.7 278.3 C699 281.5 697 283.5 695 285 C691 288 687 289.2 683.3 290 C677 291.5 672 292.5 666.7 292.5 L650 292.5 C643 291.8 638 290.8 633.3 289.2 C628 287.5 624 285.5 621.7 283.3 C617.5 280 614.5 276.5 612.5 272.5 Z"/></clipPath>
<clipPath id="ln"><path d="M637 292 L655 277.5 L666.7 268.3 L683.3 263.3 L693.3 265 L701.7 278.3 C699 281.5 697 283.5 695 285 C691 288 687 289.2 683.3 290 C677 291.5 672 292.5 666.7 292.5 L650 292.5 C645 292.3 641 292.2 637 292 Z"/></clipPath>
<clipPath id="nl"><path clip-rule="evenodd" d="M600 240 H750 V310 H600 Z M637 292 L655 277.5 L666.7 268.3 L683.3 263.3 L693.3 265 L701.7 278.3 C699 281.5 697 283.5 695 285 C691 288 687 289.2 683.3 290 C677 291.5 672 292.5 666.7 292.5 L650 292.5 C645 292.3 641 292.2 637 292 Z"/></clipPath>
<g clip-path="url(#nl)"><path class="el" clip-path="url(#el)" d="M625 247 Q605 272 627 299 M627.5 247 Q607.5 272 629.5 299 M630 247 Q610 272 632 299 M632.5 247 Q612.5 272 634.5 299 M635 247 Q615 272 637 299 M637.5 247 Q617.5 272 639.5 299 M640.8 247 Q620.8 272 642.8 299 M644.1 247 Q624.1 272 646.1 299 M647.4 247 Q627.4 272 649.4 299 M650.7 247 Q630.7 272 652.7 299 M654 247 Q634 272 656 299 M657.3 247 Q637.3 272 659.3 299 M660.6 247 Q640.6 272 662.6 299 M663.9 247 Q643.9 272 665.9 299 M670 250 Q652 262 648 282 M679 250 Q664 258 659 274 M678 246 Q699 268 666 306 M682.5 246 Q703.5 268 670.5 306 M687 246 Q708 268 675 306 M691.5 246 Q712.5 268 679.5 306 M696 246 Q717 268 684 306 M700.5 246 Q721.5 268 688.5 306 M705 246 Q726 268 693 306 M709.5 246 Q730.5 268 697.5 306 M714 246 Q735 268 702 306 M718.5 246 Q739.5 268 706.5 306 M723 246 Q744 268 711 306 M727.5 246 Q748.5 268 715.5 306 M732 246 Q753 268 720 306"/></g>
<path class="el" clip-path="url(#ln)" d="M656 258 Q664 276 649 298 M660.4 258 Q668.4 276 653.4 298 M664.8 258 Q672.8 276 657.8 298 M669.2 258 Q677.2 276 662.2 298 M673.6 258 Q681.6 276 666.6 298 M678 258 Q686 276 671 298 M682.4 258 Q690.4 276 675.4 298 M686.8 258 Q694.8 276 679.8 298 M691.2 258 Q699.2 276 684.2 298 M695.6 258 Q703.6 276 688.6 298 M700 258 Q708 276 693 298 M704.4 258 Q712.4 276 697.4 298"/>
<path class="s" d="M612.5 272.5 C614 267 616 264.5 618 263 C623 260 628 258.5 633 257.5 C640 255.5 645 254.8 650 254 C658 252.5 664 251.5 670 251.3 C678 251 686 251.8 691.7 252.5 C698 253.3 703 254.5 708 255.8 C714 257.5 720 260 725 262.5 C730 265 734 268.5 736.7 271.7 L738.8 275.8 L706 302 C709 292 706 283 701.7 278.3 C699 281.5 697 283.5 695 285 C691 288 687 289.2 683.3 290 C677 291.5 672 292.5 666.7 292.5 L650 292.5 C643 291.8 638 290.8 633.3 289.2 C628 287.5 624 285.5 621.7 283.3 C617.5 280 614.5 276.5 612.5 272.5 Z"/>
<path class="s" d="M681 251.5 C694 262 707 279 710 297"/>
<path class="s" d="M640.7 292 C633 297 627 302 622.2 306.4"/>
<path class="ah" d="M667.1 253.9 L672 251.2 L666.9 248.8"/>
<path class="bs" d="M636.4 291.2 L645.3 283.7 L647.5 284 L647.5 286.3 L638.6 293.8 Z"/>
<path class="bh" d="M641.5 283.9 L647.5 284 L646.6 289.9"/>
<path class="bs" d="M650.1 279.1 L659.8 272.9 L662 273.5 L661.6 275.7 L651.9 281.9 Z"/>
<path class="bh" d="M656.1 272.6 L662 273.5 L660.3 279.2"/>
<path class="bs" d="M666.2 266.9 L681.6 262.3 L683.5 263.5 L682.5 265.6 L667.2 270.1 Z"/>
<path class="bh" d="M678.1 261 L683.5 263.5 L680.3 268.5"/>
<path class="bs" d="M687.4 262.4 L700.2 270.8 L700.5 273 L698.3 273.6 L685.6 265.2 Z"/>
<path class="bh" d="M698.9 267.3 L700.5 273 L694.6 273.8"/>
<path class="bs" d="M739.8 276.9 L731.4 284.8 L729 284.5 L728.8 282.1 L737.2 274.1 Z"/>
<path class="bh" d="M735.1 284.4 L729 284.5 L729.4 278.4"/>
<path class="bs" d="M727.2 288 L718.4 295 L716 294.5 L716 292.1 L724.8 285 Z"/>
<path class="bh" d="M722.1 294.9 L716 294.5 L717 288.5"/>
<path class="bs" d="M714.3 298.1 L701.9 308.1 L699.5 307.5 L699.4 305 L711.7 294.9 Z"/>
<path class="bh" d="M705.6 307.9 L699.5 307.5 L700.3 301.4"/>
<circle class="c" cx="696.6" cy="293.1" r="6.3"/>
<text class="cn" x="696.6" y="296.8" font-size="10.2">8</text>
<circle class="c" cx="735.7" cy="293" r="6.3"/>
<text class="cn" x="735.7" y="296.7" font-size="10.2">9</text>
<path class="bs" d="M695.9 314.4 L690.3 326.5 L687.9 327 L686.7 324.8 L692.3 312.8 Z"/>
<path class="bh" d="M693.6 324.7 L687.9 327 L686 321.2"/>
<path class="s" d="M687.5 328 C686.9 329.2 685.9 332 683.8 335.2 C681.7 338.4 678.4 343.2 675 347 C671.6 350.8 667.3 354.8 663.3 357.8 C659.3 360.8 655.1 362.9 651 365 C646.9 367.1 642.9 368.6 638.6 370.1 C634.3 371.6 629.5 373 625 374.2 C620.5 375.4 617.7 376 611.9 377.3 C606.1 378.6 597.2 380.4 590 382 C582.8 383.6 575.1 385.1 568.8 386.6 C562.5 388.1 554.8 390.3 552 391"/>
<path class="ah" d="M615.3 373.5 L610 377.8 L616.6 379.6"/>
<path class="bs" d="M551.8 393.3 L538.2 399.2 L536 398 L536.6 395.6 L550.2 389.7 Z"/>
<path class="bh" d="M541.8 400.1 L536 398 L538.5 392.4"/>
<path class="bs" d="M535.9 403.3 L523.3 410.1 L521 409 L521.4 406.5 L534.1 399.7 Z"/>
<path class="bh" d="M526.9 410.6 L521 409 L523 403.2"/>
<path class="bs" d="M521.1 414.7 L509.9 422.3 L507.5 421.5 L507.6 419 L518.9 411.3 Z"/>
<path class="bh" d="M513.6 422.4 L507.5 421.5 L508.9 415.5"/>
<circle class="c" cx="511" cy="402" r="6.8"/>
<text class="cn" x="511" y="405.4" font-size="9.4" textLength="10" lengthAdjust="spacingAndGlyphs">10</text>
<path class="s" d="M507.5 421.5 C505.8 424.2 500.3 432.2 497 438 C493.7 443.8 490.5 450.5 487.5 456.5 C484.5 462.5 481.5 468.6 479 474 C476.5 479.4 474.4 484.2 472.5 489 C470.6 493.8 468.9 498.8 467.5 503 C466.1 507.2 464.8 512.2 464.3 514"/>
<path class="bs" d="M465.9 513.7 L468.3 528.2 L466.5 530 L464.2 528.9 L461.7 514.3 Z"/>
<path class="bh" d="M470 524.8 L466.5 530 L461.5 526.3"/>
<path class="sd" d="M688.5 331 C687.5 332.5 685.2 336.4 682.7 340 C680.2 343.6 677.6 348.5 673.8 352.4 C669.9 356.2 664.4 360 659.6 363.1 C654.8 366.2 649.8 368.6 645 371 C640.2 373.4 636.4 375 631.1 377.3 C625.8 379.6 618.9 382.6 613 385 C607.1 387.4 600.6 389.9 595.6 391.6 C590.6 393.3 587.5 393.8 583 395 C578.5 396.2 574.3 397.2 568.8 398.9 C563.3 400.6 556 402.3 550 405 C544 407.7 537.5 411.7 532.5 415 C527.5 418.3 522.1 423.3 520 425"/>
<path class="ah" d="M600.6 387.3 L596 391.6 L602.1 392.8"/>
<path class="bs" d="M512.6 432.7 L503.5 444.5 L501 444.5 L500.3 442.1 L509.4 430.3 Z"/>
<path class="bh" d="M507.1 443.5 L501 444.5 L500.4 438.4"/>
<path class="sd" d="M500 446.5 C498.5 449.4 493.9 457.8 491 464 C488.1 470.2 484.8 478 482.5 484 C480.2 490 478.8 495 477.5 500 C476.2 505 475.5 509 474.5 514 C473.5 519 472.2 524.7 471.5 530 C470.8 535.3 470.1 541 470 546 C469.9 551 470.6 556 471 560 C471.4 564 472.2 568.3 472.5 570"/>
<circle class="c" cx="485.9" cy="533.8" r="6.8"/>
<text class="cn" x="485.9" y="537.2" font-size="9.4" textLength="10" lengthAdjust="spacingAndGlyphs">11</text>
<path class="bs" d="M472.2 535.8 L478.5 550.2 L477.4 552.3 L475.1 551.7 L468.8 537.4 Z"/>
<path class="bh" d="M479.3 546.5 L477.4 552.3 L471.8 549.8"/>
<path class="bs" d="M481.4 556.1 L487.6 569.3 L486.3 571.5 L483.8 571 L477.6 557.9 Z"/>
<path class="bh" d="M488.3 565.6 L486.3 571.5 L480.5 569.3"/>
<path class="bs" d="M475.3 571.9 L477.1 584.8 L475.3 586.6 L473.1 585.4 L471.3 572.5 Z"/>
<path class="bh" d="M478.8 581.6 L475.3 586.6 L470.5 582.7"/>
<path class="s" d="M486.3 571.5 L505 609 L522 644"/>
<path class="ah" d="M516.9 641.4 L522.8 646 L523.1 638.5"/>
<path class="s2" d="M741 269.5 C741.8 268.8 744.2 266.2 746 265 C747.8 263.8 749.8 262.6 752 262 C754.2 261.4 757.8 261.6 759 261.5"/>
<path class="ah2" d="M755.6 264.1 L761.5 262 L756.7 258"/>
<path class="s2" d="M737.5 282 C738.6 281.2 741.8 278.1 744 277 C746.2 275.9 748.8 275.6 751 275.5 C753.2 275.4 755.8 275.8 757.5 276.5 C759.2 277.2 760.2 278.6 761 280 C761.8 281.4 761.8 284.2 762 285"/>
<path class="ah2" d="M759.7 282.3 L762.3 288 L765.9 282.9"/>
<path class="hs" d="M848.6 435.6 L839.6 444.6 L837.1 442.1 L846.2 433.2 Z"/>
<path class="hh" d="M842.3 444.7 L836.7 445 L837 439.4"/>
<path class="hs" d="M838.7 450.2 L830.4 458.6 L827.9 456.1 L836.3 447.8 Z"/>
<path class="hh" d="M833.1 458.7 L827.5 459 L827.8 453.4"/>
<path class="hs" d="M827.2 464.2 L818.9 472.6 L816.4 470.1 L824.8 461.8 Z"/>
<path class="hh" d="M821.6 472.7 L816 473 L816.3 467.4"/>
<path class="hs" d="M816.2 477.7 L807.9 486.1 L805.4 483.6 L813.8 475.3 Z"/>
<path class="hh" d="M810.6 486.2 L805 486.5 L805.3 480.9"/>
<path class="hs" d="M805.7 490.7 L797.4 499.1 L794.9 496.6 L803.3 488.3 Z"/>
<path class="hh" d="M800.1 499.2 L794.5 499.5 L794.8 493.9"/>
<path class="hs" d="M795.8 504.2 L787.9 512.5 L785.3 510.1 L793.2 501.8 Z"/>
<path class="hh" d="M790.6 512.5 L785 513 L785.2 507.4"/>
<path class="hs" d="M785.3 517.7 L777.4 526 L774.8 523.6 L782.7 515.3 Z"/>
<path class="hh" d="M780.1 526 L774.5 526.5 L774.7 520.9"/>
<path class="t" d="M836 445 L711.6 460.7 L691.9 471.4 L691 471.4"/>
<path class="t" d="M827.5 459 L710.8 472.2 L688.6 484.5 L682 484.5"/>
<path class="t" d="M817.5 473 L706.7 486.5 L686.1 498.8 L671.3 498.8"/>
<path class="t" d="M805 486.5 L704.2 500.1 L682.9 512.4 L662.3 513.3"/>
<path class="t" d="M794.5 500 L701.7 514.1 L679.6 526 L652.4 527.2"/>
<path class="t" d="M785 514 L696.8 526.4 L675.5 539.6 L639.3 541.2"/>
<path class="t" d="M775 526.5 L695.2 537.9 L673.8 550.6 L629.4 553.9"/>
<path class="hs" d="M691 472.9 L681.5 472.9 L681.5 469.8 L691 469.8 Z"/>
<path class="hh" d="M683.1 474.4 L679.6 471.4 L683.1 468.4"/>
<path class="hs" d="M682 486.1 L673.2 486.1 L673.2 482.9 L682 482.9 Z"/>
<path class="hh" d="M674.8 487.5 L671.3 484.5 L674.8 481.5"/>
<path class="hs" d="M671.3 500.4 L661.7 500.4 L661.7 497.2 L671.3 497.2 Z"/>
<path class="hh" d="M663.3 501.8 L659.8 498.8 L663.3 495.8"/>
<path class="hs" d="M662.3 514.8 L651.1 514.8 L651.1 511.7 L662.3 511.7 Z"/>
<path class="hh" d="M652.7 516.3 L649.2 513.3 L652.7 510.3"/>
<path class="hs" d="M652.4 528.8 L639.6 528.8 L639.6 525.7 L652.4 525.7 Z"/>
<path class="hh" d="M641.2 530.2 L637.7 527.2 L641.2 524.2"/>
<path class="hs" d="M639.3 542.8 L628.9 542.8 L628.9 539.7 L639.3 539.7 Z"/>
<path class="hh" d="M630.5 544.2 L627 541.2 L630.5 538.2"/>
<path class="hs" d="M629.4 555.4 L619.5 555.4 L619.5 552.4 L629.4 552.4 Z"/>
<path class="hh" d="M621.1 556.9 L617.6 553.9 L621.1 550.9"/>
<path class="t" d="M682 468 L608 558.5"/>
<path class="ah" d="M608.8 553.1 L607.5 559.2 L613.2 556.7"/>
<path class="s" d="M609 558 L619 607 L629 656"/>
<path class="ah" d="M624.3 651.6 L629.3 658 L631.5 650.2"/>
<circle class="c" cx="619.9" cy="528.9" r="6.8"/>
<text class="cn" x="619.9" y="532.3" font-size="9.4" textLength="10" lengthAdjust="spacingAndGlyphs">11</text>
<circle class="c" cx="815.5" cy="494.5" r="6.8"/>
<text class="cn" x="815.5" y="497.9" font-size="9.4" textLength="10" lengthAdjust="spacingAndGlyphs">10</text>
<text class="b" x="472" y="117.1" font-size="6.5" textLength="43" lengthAdjust="spacingAndGlyphs">JELLICOE</text>
<text class="b" x="465.5" y="129.1" font-size="6.5" textLength="59.5" lengthAdjust="spacingAndGlyphs">GRAND FLEET</text>
<text class="b" x="492" y="139.6" font-size="6.5" textLength="20.5" lengthAdjust="spacingAndGlyphs">5.56</text>
<text class="b" x="666.5" y="97.6" font-size="6.8" textLength="69.5" lengthAdjust="spacingAndGlyphs">GRAND FLEET</text>
<text class="b" x="666.5" y="107.1" font-size="6.8" textLength="93.5" lengthAdjust="spacingAndGlyphs">DEPLOYS ON PORT</text>
<text class="b" x="666.5" y="117.1" font-size="6.8" textLength="25.5" lengthAdjust="spacingAndGlyphs">WING</text>
<text class="b" x="700.5" y="117.1" font-size="7.8" textLength="30" lengthAdjust="spacingAndGlyphs">6. 30</text>
<text class="b" x="460.5" y="205.6" font-size="7.1" textLength="60.5" lengthAdjust="spacingAndGlyphs">5.56 - BEATTY</text>
<text class="b" x="459.5" y="214.6" font-size="6.5" textLength="65.5" lengthAdjust="spacingAndGlyphs">SIGHTS JELLICOE</text>
<text class="b" x="459.5" y="223.6" font-size="6.5" textLength="63" lengthAdjust="spacingAndGlyphs">AND TURNS EAST</text>
<text class="b" x="459.5" y="232.1" font-size="6.5" textLength="44.5" lengthAdjust="spacingAndGlyphs">AT UTMOST</text>
<text class="b" x="470" y="239.6" font-size="6.2" textLength="26" lengthAdjust="spacingAndGlyphs">SPEED.</text>
<text class="b" x="507.5" y="288.5" font-size="6.5" textLength="60" lengthAdjust="spacingAndGlyphs" transform="rotate(-45 507.5 288.5)">EVAN-THOMAS</text>
<text class="b" x="568" y="244.8" font-size="6.2" textLength="42.6" lengthAdjust="spacingAndGlyphs">WARSPITE</text>
<text class="b" x="560" y="253.4" font-size="6.2" textLength="48.5" lengthAdjust="spacingAndGlyphs">HELM JAMS</text>
<text class="b" x="674" y="225.2" font-size="6.5" textLength="66.6" lengthAdjust="spacingAndGlyphs">DEFENSE, BLACK</text>
<text class="b" x="667.8" y="231.9" font-size="6.5" textLength="86.2" lengthAdjust="spacingAndGlyphs">PRINCE, AND WARRIOR</text>
<text class="b" x="667.2" y="238.9" font-size="6.5" textLength="78.3" lengthAdjust="spacingAndGlyphs">PUT OUT OF ACTION</text>
<text class="b" x="700.2" y="244.6" font-size="5.8" textLength="15.9" lengthAdjust="spacingAndGlyphs">6.20</text>
<text class="b" x="807.9" y="190.4" font-size="6.5" textLength="68.8" lengthAdjust="spacingAndGlyphs">INVINCIBLE SUNK</text>
<text class="b" x="836.6" y="197.6" font-size="5.9" textLength="17.4" lengthAdjust="spacingAndGlyphs">6.34</text>
<text class="b" x="855" y="247.6" font-size="6.2" textLength="29" lengthAdjust="spacingAndGlyphs">HOOD 3</text>
<text class="b" x="857.5" y="256.6" font-size="6.2" textLength="27" lengthAdjust="spacingAndGlyphs">BATTLE</text>
<text class="b" x="856" y="264.6" font-size="6.2" textLength="34" lengthAdjust="spacingAndGlyphs">CRUISERS</text>
<text class="b" x="567.5" y="274.1" font-size="7.1" textLength="38.5" lengthAdjust="spacingAndGlyphs">SCHEER</text>
<text class="b" x="552.5" y="282.6" font-size="6.5" textLength="37.5" lengthAdjust="spacingAndGlyphs">SECOND</text>
<text class="b" x="555" y="292.1" font-size="7.1" textLength="50" lengthAdjust="spacingAndGlyphs">TURN, 6.55</text>
<text class="b" x="647" y="300.6" font-size="5.9" textLength="36" lengthAdjust="spacingAndGlyphs">SCHEER</text>
<text class="b" x="642" y="307.6" font-size="5.9" textLength="49" lengthAdjust="spacingAndGlyphs">FIRST TURN</text>
<text class="b" x="655" y="313.6" font-size="5.7" textLength="18" lengthAdjust="spacingAndGlyphs">6.35</text>
<text class="b" x="715" y="310.6" font-size="6.5" textLength="35" lengthAdjust="spacingAndGlyphs">SCHEER</text>
<text class="b" x="719" y="319.1" font-size="6.5" textLength="26.5" lengthAdjust="spacingAndGlyphs">THIRD</text>
<text class="b" x="715.5" y="327.6" font-size="7.1" textLength="41.5" lengthAdjust="spacingAndGlyphs">TURN 7.17</text>
<text class="b" x="567.5" y="322.6" font-size="7.1" textLength="38.5" lengthAdjust="spacingAndGlyphs">HIPPER/</text>
<text class="b" x="546" y="357.6" font-size="6.5" textLength="35" lengthAdjust="spacingAndGlyphs">SCHEER</text>
<text class="b" x="762" y="292.5" font-size="6.2" textLength="75" lengthAdjust="spacingAndGlyphs" transform="rotate(44.5 762 292.5)">GERMAN DESTROYER</text>
<text class="b" x="757" y="301" font-size="6.2" textLength="54" lengthAdjust="spacingAndGlyphs" transform="rotate(44.5 757 301)">ATTACKS, 7.15</text>
<text class="b" x="851" y="332.6" font-size="7.8" textLength="19" lengthAdjust="spacingAndGlyphs">7.25</text>
<text class="b" x="846.8" y="348.1" font-size="7.1" textLength="38.8" lengthAdjust="spacingAndGlyphs">JELLICOE</text>
<text class="b" x="849" y="357.6" font-size="7.1" textLength="30" lengthAdjust="spacingAndGlyphs">SHIFTS</text>
<text class="b" x="849.2" y="365.6" font-size="6.7" textLength="31.5" lengthAdjust="spacingAndGlyphs">COURSE</text>
<text class="b" x="848.6" y="375.6" font-size="6.8" textLength="33.4" lengthAdjust="spacingAndGlyphs">BY SUB-</text>
<text class="b" x="846.8" y="384.1" font-size="6.7" textLength="38.2" lengthAdjust="spacingAndGlyphs">DIVISIONS</text>
<text class="b" x="847.5" y="393.3" font-size="6.8" textLength="33.5" lengthAdjust="spacingAndGlyphs">TO AVOID</text>
<text class="b" x="847" y="402.6" font-size="6.5" textLength="39" lengthAdjust="spacingAndGlyphs">TORPEDOES.</text>
<text class="b" x="755" y="375.6" font-size="6.5" textLength="30" lengthAdjust="spacingAndGlyphs">BEATTY</text>
<text class="b" x="832.5" y="502.6" font-size="7.8" textLength="18.5" lengthAdjust="spacingAndGlyphs">7.58</text>
<text class="b" x="807.5" y="515.6" font-size="7.1" textLength="75" lengthAdjust="spacingAndGlyphs">JELLICOE SHIFTS</text>
<text class="b" x="803" y="524.6" font-size="6.8" textLength="77" lengthAdjust="spacingAndGlyphs">COURSE TO WEST-</text>
<text class="b" x="807" y="533.1" font-size="6.8" textLength="25.5" lengthAdjust="spacingAndGlyphs">WARD</text>
<text class="b" x="670" y="601.6" font-size="6.5" textLength="36" lengthAdjust="spacingAndGlyphs">BEATTY</text>
<text class="b" x="460.5" y="626.1" font-size="6.8" textLength="45.5" lengthAdjust="spacingAndGlyphs">DURING THE</text>
<text class="b" x="460.5" y="637.6" font-size="7.1" textLength="55" lengthAdjust="spacingAndGlyphs">NIGHT SCHEER</text>
<text class="b" x="460.5" y="648.1" font-size="6.8" textLength="55.5" lengthAdjust="spacingAndGlyphs">PASSES ACROSS</text>
<text class="b" x="461" y="658.6" font-size="6.8" textLength="49" lengthAdjust="spacingAndGlyphs">THE REAR OF</text>
<text class="b" x="461" y="668.1" font-size="7.5" textLength="60" lengthAdjust="spacingAndGlyphs">THE BRITISH.</text>
<text class="b" x="567.5" y="676.1" font-size="6.8" textLength="172" lengthAdjust="spacingAndGlyphs">AT 9 00 JELLICOE TAKES SOUTHERLY</text>
<text class="b" x="572" y="686.1" font-size="6.8" textLength="114" lengthAdjust="spacingAndGlyphs">COURSE FOR THE NIGHT</text>
<text class="n" x="730.5" y="603.4" textLength="138.5" lengthAdjust="spacingAndGlyphs"><tspan font-size="15.3">B</tspan><tspan font-size="11.1">ATTLE OF </tspan><tspan font-size="15.3">J</tspan><tspan font-size="11.1">UTLAND</tspan></text>
<path d="M757.5 606.8 H845" stroke="#000" stroke-width="1.8"/>
<text class="n" x="729.5" y="622" textLength="142.5" lengthAdjust="spacingAndGlyphs"><tspan font-size="13.6">II M</tspan><tspan font-size="10">AIN </tspan><tspan font-size="13.6">E</tspan><tspan font-size="10">NGAGEMENT.</tspan></text>
<text class="n2" x="770" y="637.4" font-size="10.2" textLength="69" lengthAdjust="spacingAndGlyphs">5.30 - 9.00</text>
<text class="i" x="734" y="715.1" font-size="7.5" textLength="97" lengthAdjust="spacingAndGlyphs">ALLAN WESTCOTT</text>
</svg></body></html>
